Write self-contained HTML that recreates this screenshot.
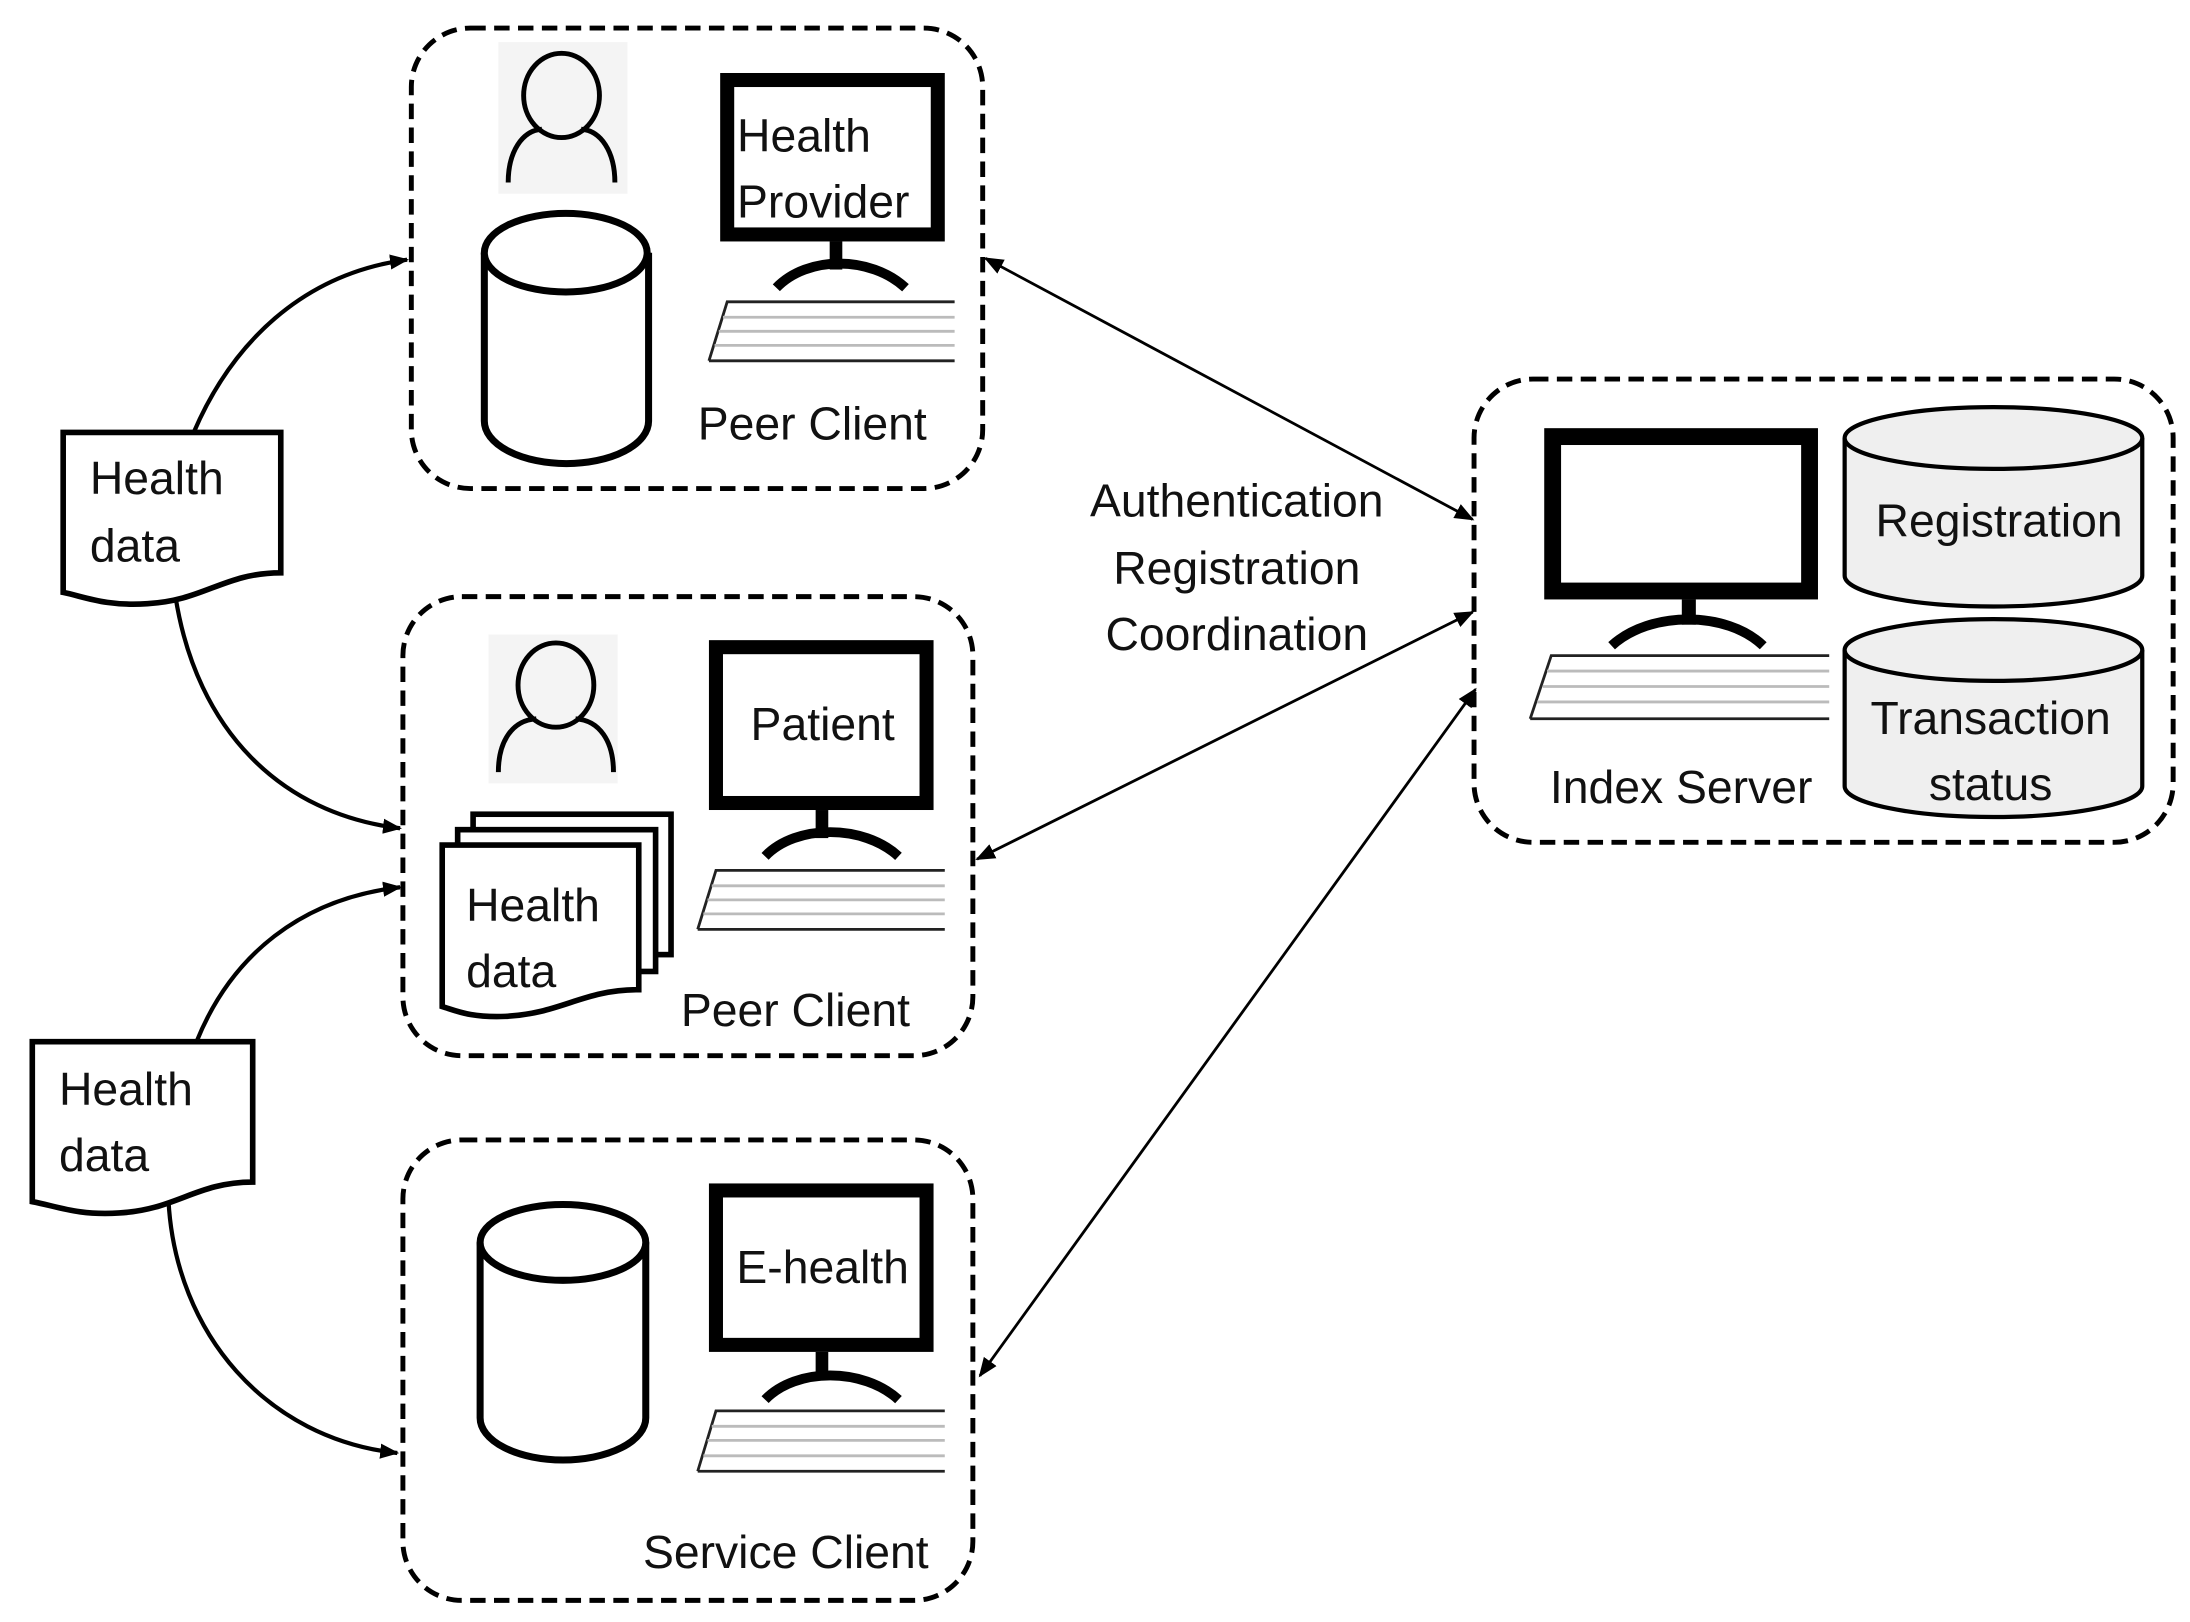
<!DOCTYPE html>
<html><head><meta charset="utf-8"><style>
html,body{margin:0;padding:0;background:#fff;}
svg{display:block;}
text{font-family:"Liberation Sans",sans-serif;font-size:33px;fill:#111;}
</style></head><body>
<svg width="2190" height="1622" viewBox="0 0 1560 1155.4" xmlns="http://www.w3.org/2000/svg">
<defs>
<marker id="ah" viewBox="0 0 10 10" refX="9" refY="5" markerWidth="7" markerHeight="7" orient="auto-start-reverse">
<path d="M0,1 L10,5 L0,9 z" fill="#000"/></marker>
<marker id="ah2" viewBox="0 0 10 10" refX="9" refY="5" markerWidth="4.5" markerHeight="4.5" orient="auto">
<path d="M0,1 L10,5 L0,9 z" fill="#000"/></marker>
</defs>
<g fill="none" stroke="#000" stroke-width="3.5" stroke-dasharray="11,6">
<rect x="293" y="20" width="407" height="328" rx="42"/>
<rect x="287" y="425" width="406" height="327" rx="42"/>
<rect x="287" y="812" width="406" height="328" rx="42"/>
<rect x="1050" y="270" width="498" height="330" rx="42"/>
</g>
<g fill="none" stroke="#000" stroke-width="2">
<line x1="702" y1="184" x2="1049" y2="370" marker-start="url(#ah)" marker-end="url(#ah)"/>
<line x1="696" y1="612" x2="1049" y2="436" marker-start="url(#ah)" marker-end="url(#ah)"/>
<line x1="698" y1="980" x2="1051" y2="491" marker-start="url(#ah)" marker-end="url(#ah)"/>
</g>
<g fill="none" stroke="#000" stroke-width="3">
<path d="M138,308 C165,245 215,195 290,185" marker-end="url(#ah2)"/>
<path d="M125,425 C140,520 200,580 285,590" marker-end="url(#ah2)"/>
<path d="M140,742 C165,680 215,640 285,632" marker-end="url(#ah2)"/>
<path d="M120,855 C125,950 190,1025 283,1035" marker-end="url(#ah2)"/>
</g>
<g fill="#fff" stroke="#000" stroke-width="4">
<path d="M45,308 H200 V408 C160,408 145,428 105,430 C75,432 60,425 45,422 Z"/>
<path d="M23,742 H180 V842 C140,842 125,862 85,864 C55,866 40,859 23,856 Z"/>
</g>
<text x="64" y="352">Health</text><text x="64" y="400">data</text>
<text x="42" y="787">Health</text><text x="42" y="834">data</text>
<rect x="355" y="30" width="92" height="108" fill="#f4f4f4"/>
<g fill="none" stroke="#000" stroke-width="3.5">
<ellipse cx="400" cy="68" rx="27" ry="30"/>
<path d="M362,130 C362,108 372,93 386,92 M414,92 C428,93 438,108 438,130"/>
</g>
<g fill="#fff" stroke="#000" stroke-width="5">
<path d="M345,180 V300 A58,30 0 0 0 462,300 V180"/>
<ellipse cx="403" cy="180" rx="58" ry="28"/>
</g>
<rect x="518" y="57" width="150" height="110" fill="#fff" stroke="#000" stroke-width="10"/>
<text x="525" y="108">Health</text><text x="525" y="155">Provider</text>
<rect x="591" y="172" width="9" height="20" fill="#000"/>
<path d="M553,205 C575,182 620,182 645,205" fill="none" stroke="#000" stroke-width="7"/>
<path d="M505,257 L518,215 H680 M680,257 H505" fill="none" stroke="#222" stroke-width="2"/>
<path d="M515,226 H680 M512,236 H680 M509,246 H680" stroke="#bbb" stroke-width="2"/>
<text x="497" y="313">Peer Client</text>
<rect x="348" y="452" width="92" height="106" fill="#f4f4f4"/>
<g fill="none" stroke="#000" stroke-width="3.5">
<ellipse cx="396" cy="488" rx="27" ry="30"/>
<path d="M355,550 C355,528 365,513 382,512 M410,512 C427,513 437,528 437,550"/>
</g>
<g fill="#fff" stroke="#000" stroke-width="4">
<rect x="337" y="580" width="141" height="100"/>
<rect x="326" y="591" width="141" height="101"/>
<path d="M315,602 H455 V705 C415,705 400,722 360,724 C335,725 325,720 315,717 Z"/>
</g>
<text x="332" y="656">Health</text><text x="332" y="703">data</text>
<rect x="510" y="461" width="150" height="111" fill="#fff" stroke="#000" stroke-width="10"/>
<text x="586" y="527" text-anchor="middle">Patient</text>
<rect x="581" y="577" width="9" height="20" fill="#000"/>
<path d="M545,610 C567,587 615,587 640,610" fill="none" stroke="#000" stroke-width="7"/>
<path d="M497,662 L510,620 H673 M673,662 H497" fill="none" stroke="#222" stroke-width="2"/>
<path d="M507,631 H673 M504,641 H673 M501,651 H673" stroke="#bbb" stroke-width="2"/>
<text x="485" y="731">Peer Client</text>
<g fill="#fff" stroke="#000" stroke-width="5">
<path d="M342,885 V1010 A59,30 0 0 0 460,1010 V885"/>
<ellipse cx="401" cy="885" rx="59" ry="27"/>
</g>
<rect x="510" y="848" width="150" height="110" fill="#fff" stroke="#000" stroke-width="10"/>
<text x="586" y="914" text-anchor="middle">E-health</text>
<rect x="581" y="963" width="9" height="20" fill="#000"/>
<path d="M545,997 C567,974 615,974 640,997" fill="none" stroke="#000" stroke-width="7"/>
<path d="M497,1048 L510,1005 H673 M673,1048 H497" fill="none" stroke="#222" stroke-width="2"/>
<path d="M507,1016 H673 M504,1026 H673 M501,1037 H673" stroke="#bbb" stroke-width="2"/>
<text x="458" y="1117">Service Client</text>
<text x="881" y="368" text-anchor="middle">Authentication</text>
<text x="881" y="416" text-anchor="middle">Registration</text>
<text x="881" y="463" text-anchor="middle">Coordination</text>
<rect x="1106" y="311" width="183" height="110" fill="#fff" stroke="#000" stroke-width="12"/>
<rect x="1198" y="427" width="10" height="18" fill="#000"/>
<path d="M1148,460 C1175,435 1230,435 1256,460" fill="none" stroke="#000" stroke-width="7"/>
<path d="M1090,512 L1105,467 H1303 M1303,512 H1090" fill="none" stroke="#222" stroke-width="2"/>
<path d="M1102,478 H1303 M1099,489 H1303 M1095,500 H1303" stroke="#bbb" stroke-width="2"/>
<text x="1104" y="572">Index Server</text>
<g fill="#efefef" stroke="#000" stroke-width="3">
<path d="M1314,312 V410 A106,22 0 0 0 1526,410 V312"/>
<ellipse cx="1420" cy="312" rx="106" ry="22"/>
<path d="M1314,463 V560 A106,22 0 0 0 1526,560 V463"/>
<ellipse cx="1420" cy="463" rx="106" ry="22"/>
</g>
<text x="1424" y="382" text-anchor="middle">Registration</text>
<text x="1418" y="523" text-anchor="middle">Transaction</text>
<text x="1418" y="570" text-anchor="middle">status</text>
</svg>
</body></html>
